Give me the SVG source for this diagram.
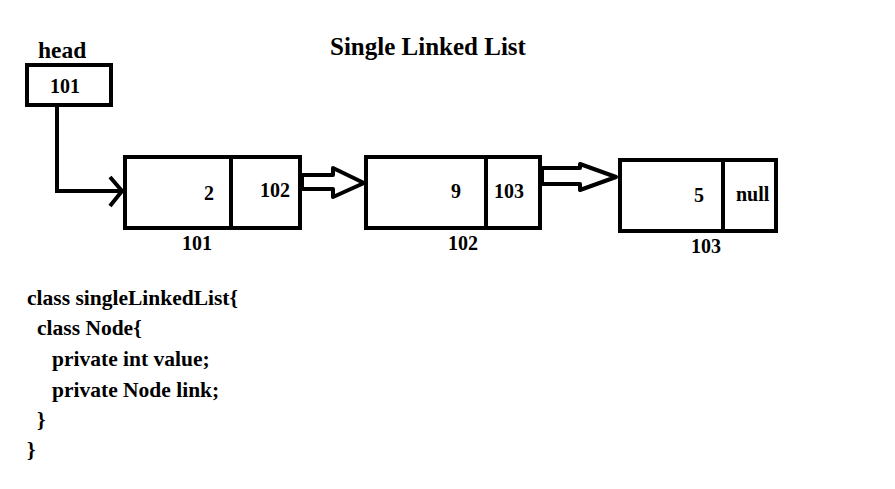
<svg xmlns="http://www.w3.org/2000/svg" width="895" height="489" viewBox="0 0 895 489">
<style>
text{font-family:"Liberation Serif","Times New Roman",serif;font-weight:bold;fill:#000}
.box{fill:#fff;stroke:#000;stroke-width:4}
.ln{fill:none;stroke:#000;stroke-width:4;stroke-linejoin:miter}
.arr{fill:#fff;stroke:#000;stroke-width:4;stroke-linejoin:round}
.v{font-size:20px}
.code{font-size:21.5px}
</style>
<rect width="895" height="489" fill="#fff"/>
<text x="330" y="55" font-size="25">Single Linked List</text>
<g id="head">
<text x="38" y="58" font-size="23.5">head</text>
<rect class="box" x="27" y="65" width="84" height="40"/>
<text class="v" x="50" y="93" font-size="19">101</text>
</g>
<g id="node101">
<rect class="box" x="125" y="157" width="175" height="71"/>
<line class="ln" x1="231" y1="157" x2="231" y2="228"/>
<text class="v" x="204" y="200">2</text>
<text class="v" x="260" y="197">102</text>
<text class="v" x="182" y="250">101</text>
</g>
<g id="node102">
<rect class="box" x="366" y="157" width="174" height="71"/>
<line class="ln" x1="486" y1="157" x2="486" y2="228"/>
<text class="v" x="451" y="198">9</text>
<text class="v" x="494" y="198">103</text>
<text class="v" x="448" y="250">102</text>
</g>
<g id="node103">
<rect class="box" x="620" y="160" width="156" height="71"/>
<line class="ln" x1="723" y1="160" x2="723" y2="231"/>
<text class="v" x="694" y="202">5</text>
<text class="v" x="736" y="201">null</text>
<text class="v" x="691" y="253">103</text>
</g>
<g id="connectors">
<polyline class="ln" points="57,107 57,191 121,191"/>
<polyline class="ln" points="110,177 122,191 110,206"/>
<polygon class="arr" points="302,175 333,175 333,168 364,183 333,197 333,189 302,189"/>
<polygon class="arr" points="542,168 580,168 580,164 616,177 580,190 580,184 542,184"/>
</g>
<g id="code">
<text class="code" x="27" y="305">class singleLinkedList{</text>
<text class="code" x="37" y="335">class Node{</text>
<text class="code" x="52" y="366">private int value;</text>
<text class="code" x="52" y="397">private Node link;</text>
<text class="code" x="37" y="427">}</text>
<text class="code" x="27" y="457">}</text>
</g>
</svg>
